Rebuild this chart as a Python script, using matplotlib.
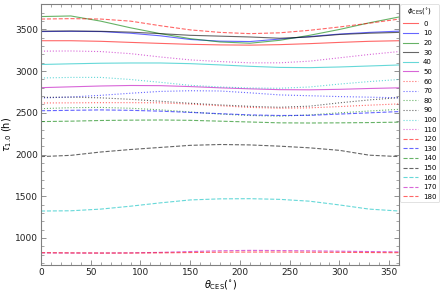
import numpy as np
from matplotlib import pyplot as plt

# theta_CES sampled every 30 degrees
theta = [0, 30, 60, 90, 120, 150, 180, 210, 240, 270, 300, 330, 360]

phi_labels = ['0', '10', '20', '30', '40', '50', '60', '70', '80', '90',
              '100', '110', '120', '130', '140', '150', '160', '170', '180']

tau_0 = [3365, 3365, 3358, 3345, 3333, 3322, 3315, 3312, 3318, 3330, 3345, 3358, 3365]
tau_10 = [3475, 3478, 3475, 3455, 3424, 3380, 3360, 3355, 3385, 3415, 3445, 3465, 3480]
tau_20 = [3655, 3662, 3600, 3520, 3450, 3390, 3350, 3335, 3370, 3430, 3500, 3580, 3650]
tau_30 = [3480, 3482, 3478, 3468, 3450, 3430, 3420, 3410, 3395, 3410, 3440, 3455, 3465]
tau_40 = [3080, 3088, 3095, 3098, 3098, 3090, 3075, 3058, 3045, 3042, 3050, 3062, 3074]
tau_50 = [2802, 2812, 2822, 2828, 2826, 2815, 2800, 2788, 2778, 2776, 2782, 2792, 2800]
tau_60 = [2618, 2620, 2622, 2622, 2620, 2605, 2585, 2565, 2555, 2560, 2575, 2592, 2607]
tau_70 = [2678, 2690, 2710, 2735, 2757, 2765, 2762, 2740, 2715, 2705, 2695, 2688, 2680]
tau_80 = [2550, 2562, 2565, 2555, 2536, 2510, 2485, 2468, 2460, 2475, 2500, 2522, 2542]
tau_90 = [2686, 2688, 2680, 2662, 2639, 2615, 2595, 2578, 2567, 2580, 2620, 2655, 2682]
tau_100 = [2918, 2925, 2925, 2900, 2866, 2830, 2810, 2798, 2795, 2810, 2845, 2875, 2900]
tau_110 = [3240, 3242, 3235, 3210, 3170, 3135, 3115, 3100, 3100, 3120, 3160, 3200, 3235]
tau_120 = [3625, 3630, 3625, 3600, 3545, 3495, 3465, 3450, 3460, 3490, 3530, 3575, 3625]
tau_130 = [2525, 2530, 2535, 2530, 2520, 2505, 2490, 2475, 2468, 2470, 2485, 2500, 2515]
tau_140 = [2395, 2400, 2408, 2412, 2414, 2410, 2400, 2390, 2380, 2378, 2380, 2383, 2388]
tau_150 = [1975, 1990, 2030, 2060, 2085, 2110, 2120, 2115, 2100, 2080, 2050, 1992, 1975]
tau_160 = [1322, 1325, 1345, 1380, 1420, 1455, 1468, 1470, 1462, 1440, 1395, 1345, 1322]
tau_170 = [820, 818, 818, 820, 826, 836, 845, 850, 848, 844, 840, 836, 832]
tau_180 = [822, 820, 818, 818, 820, 824, 828, 830, 830, 828, 826, 824, 822]

taus = [tau_0, tau_10, tau_20, tau_30, tau_40, tau_50, tau_60, tau_70, tau_80, tau_90,
        tau_100, tau_110, tau_120, tau_130, tau_140, tau_150, tau_160, tau_170, tau_180]

colors = ['r', 'b', 'g', 'k', 'c', 'm']
styles = ['-'] * 6 + [':'] * 6 + ['--'] * 7

fig = plt.figure(figsize=(4.41, 2.94), dpi=100)
ax = fig.add_axes([0.093, 0.099, 0.812, 0.887])

for i in range(len(taus)):
    ax.plot(theta, taus[i], color=colors[i % 6], ls=styles[i], lw=0.8, alpha=0.6,
            label=phi_labels[i])

ax.set_xlim(0, 360)
ax.set_xticks([0, 50, 100, 150, 200, 250, 300, 350])
ax.set_yticks([1000, 1500, 2000, 2500, 3000, 3500])
ax.minorticks_on()
ax.tick_params(which='both', direction='in', top=True, right=True, color='gray',
               labelsize=6.5, labelcolor='#222222', pad=2)
ax.tick_params(which='major', length=3.5, width=0.6)
ax.tick_params(which='minor', length=2, width=0.5)
for s in ax.spines.values():
    s.set_color('gray')
    s.set_linewidth(0.8)

ax.set_xlabel(r'$\theta_{\rm CES}(^{\circ})$', fontsize=7, labelpad=1)
ax.set_ylabel(r'$\tau_{1.0}$ (h)', fontsize=7, labelpad=1)

leg = ax.legend(title=r'$\phi_{\rm CES}(^{\circ})$', loc='upper left',
                bbox_to_anchor=(1.0, 1.005), fontsize=5, title_fontsize=5,
                handlelength=2.1, labelspacing=0.52, borderaxespad=0.2,
                borderpad=0.35, handletextpad=0.8)
leg.get_frame().set_linewidth(0.5)

plt.savefig('out.png', dpi=100)
